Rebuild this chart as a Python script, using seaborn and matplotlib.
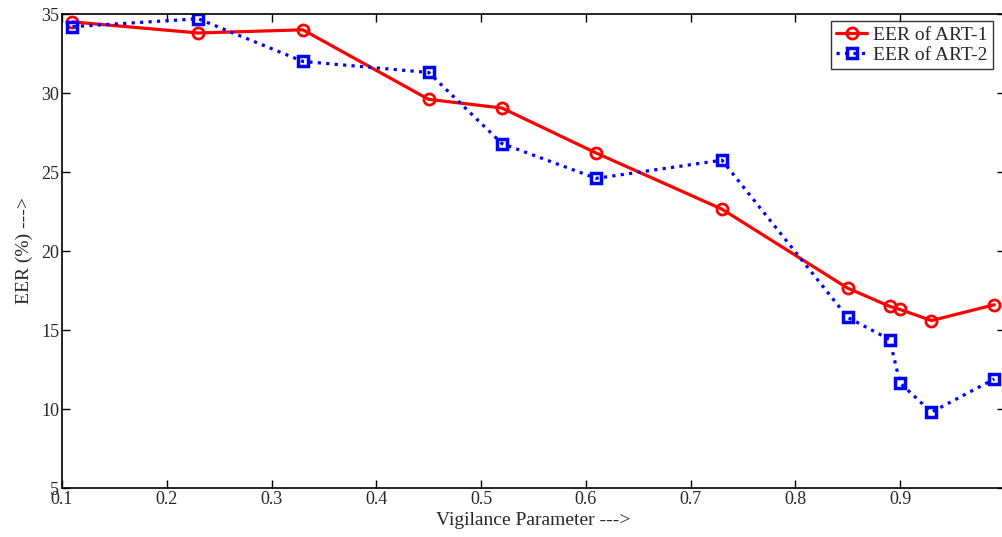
import matplotlib
matplotlib.use("Agg")
import matplotlib.pyplot as plt
import numpy as np
import pandas as pd
import seaborn as sns

# data
vigilance = [0.11, 0.23, 0.33, 0.45, 0.52, 0.61, 0.73, 0.85, 0.89, 0.90, 0.93, 0.99]
eer_art1 = [34.5, 33.8, 34.0, 29.6, 29.05, 26.2, 22.65, 17.65, 16.5, 16.3, 15.6, 16.6]
eer_art2 = [34.2, 34.7, 32.0, 31.3, 26.8, 24.6, 25.75, 15.8, 14.4, 11.65, 9.8, 11.9]
series_names = ["EER of ART-1", "EER of ART-2"]
x_ticks = [0.1, 0.2, 0.3, 0.4, 0.5, 0.6, 0.7, 0.8, 0.9, 1.0]
y_ticks = [5, 10, 15, 20, 25, 30, 35]

sns.set_theme(style="ticks")
plt.rcParams['font.family'] = ['Liberation Serif', 'DejaVu Serif']
plt.rcParams['xtick.direction'] = 'in'
plt.rcParams['ytick.direction'] = 'in'
plt.rcParams['xtick.top'] = True
plt.rcParams['ytick.right'] = True

df1 = pd.DataFrame({"x": vigilance, "y": eer_art1})
df2 = pd.DataFrame({"x": vigilance, "y": eer_art2})

fig = plt.figure(figsize=(10.03, 5.37), dpi=100)
ax = fig.add_axes([0.0618, 0.0912, 0.940, 0.8827])

sns.lineplot(data=df1, x="x", y="y", ax=ax, sort=False, color="#ff0000",
             linewidth=2.3, linestyle="-", marker="o", markersize=8,
             markerfacecolor="none", markeredgecolor="#ff0000", markeredgewidth=2,
             label=series_names[0])
sns.lineplot(data=df2, x="x", y="y", ax=ax, sort=False, color="#0000ff",
             linewidth=2.3, linestyle=":", marker="s", markersize=7,
             markerfacecolor="none", markeredgecolor="#0000ff", markeredgewidth=2.5,
             label=series_names[1])

ax.set_xlim(0.1, 1.0)
ax.set_ylim(5, 35)
ax.set_xticks(x_ticks)
ax.set_xticklabels([f"{t:g}" for t in x_ticks])
ax.set_yticks(y_ticks)
ax.tick_params(axis='both', labelsize=13, length=6, width=1, color='black', pad=2)
for s in ax.spines.values():
    s.set_color('black')
    s.set_linewidth(1.2)

ax.set_xlabel("Vigilance Parameter --->", fontsize=14, labelpad=3)
ax.set_ylabel("EER (%) --->", fontsize=14, labelpad=6)

leg = ax.legend(loc="upper right", bbox_to_anchor=(0.987, 0.985), fontsize=14,
                frameon=True, fancybox=False, handlelength=1.6, handletextpad=0.3,
                borderpad=0.25, labelspacing=0.15, borderaxespad=0.0)
leg.get_frame().set_edgecolor('black')
leg.get_frame().set_linewidth(1.0)

fig.savefig("out.png", dpi=100)
